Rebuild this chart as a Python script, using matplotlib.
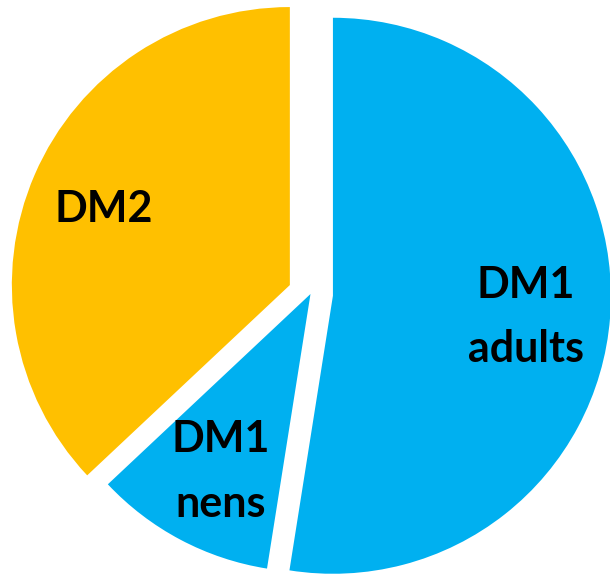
import matplotlib
matplotlib.use("Agg")
import matplotlib.pyplot as plt

# Share of patients per group (%)
labels = ["DM2", "DM1\nnens", "DM1\nadults"]
shares = [37, 10.5, 52.5]
colors = ["#FFC000", "#00B0F0", "#00B0F0"]
offsets = [22.5, 0, 22.5]

W, H = 610, 576
fig = plt.figure(figsize=(W / 100, H / 100), dpi=100)
ax = fig.add_axes([0, 0, 1, 1])

center = (310.5, H - 294)
radius = 278

ax.pie(shares, colors=colors, explode=offsets, startangle=90,
       counterclock=True, radius=radius, center=center,
       wedgeprops=dict(linewidth=0), frame=True)
ax.set_xlim(0, W)
ax.set_ylim(0, H)
ax.set_aspect("equal")
ax.axis("off")

# label anchors: centre x, baseline of the last line
label_pos = [(104, H - 222), (221, H - 517), (526, H - 362)]
spacing = [1.7, 1.75, 1.72]
for text, (x, y), ls in zip(labels, label_pos, spacing):
    ax.text(x, y, text, ha="center", va="baseline", fontsize=31,
            fontfamily="Lato", fontweight="bold", linespacing=ls,
            color="black")

fig.savefig("out.png", dpi=100)
